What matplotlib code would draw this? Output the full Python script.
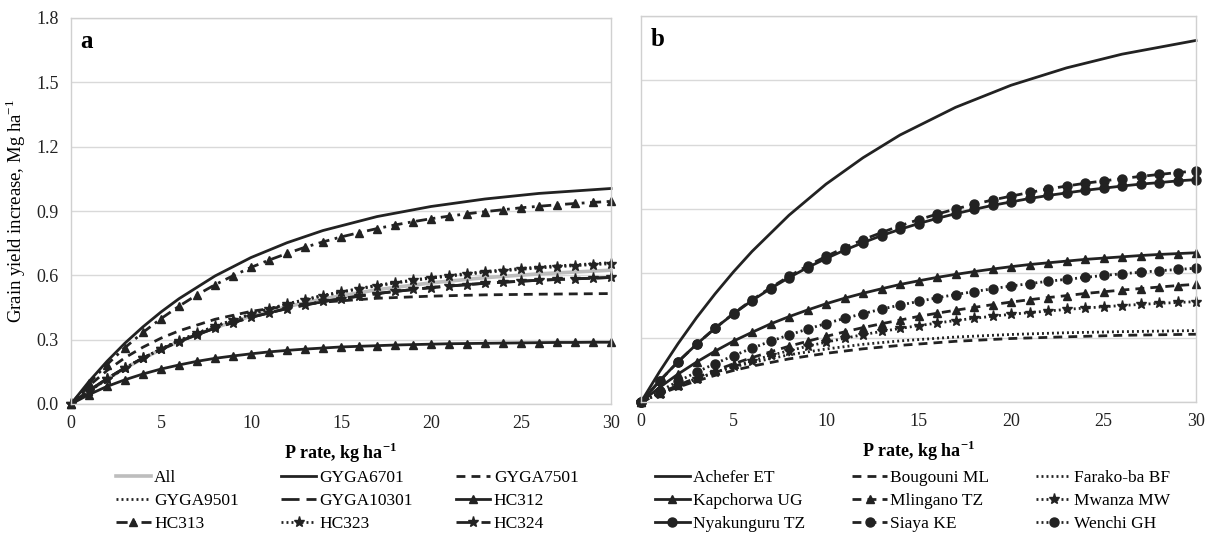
import numpy as np
import matplotlib
matplotlib.use('Agg')
import matplotlib.pyplot as plt

plt.rcParams['font.family'] = ['Liberation Serif', 'DejaVu Serif']
plt.rcParams['axes.unicode_minus'] = False

# P rate, kg/ha : every integer for the marked curves, a coarser set for the plain ones
p_full = list(range(0, 31))
p_coarse = [0, 1, 2, 3, 4, 5, 6, 8, 10, 12, 14, 17, 20, 23, 26, 30]

# ---- panel a (coarse x) ----
all_a = [0, 0.061, 0.116, 0.167, 0.212, 0.254, 0.291, 0.356, 0.410, 0.454, 0.490, 0.533, 0.565, 0.589, 0.607, 0.624]
gyga6701 = [0, 0.105, 0.199, 0.284, 0.360, 0.429, 0.491, 0.597, 0.683, 0.752, 0.809, 0.874, 0.921, 0.956, 0.982, 1.005]
gyga7501 = [0, 0.085, 0.156, 0.216, 0.265, 0.307, 0.341, 0.395, 0.432, 0.457, 0.475, 0.493, 0.503, 0.509, 0.512, 0.515]
gyga9501 = [0, 0.061, 0.117, 0.168, 0.214, 0.257, 0.296, 0.363, 0.420, 0.467, 0.507, 0.554, 0.590, 0.618, 0.639, 0.659]
gyga10301 = [0, 0.062, 0.118, 0.169, 0.214, 0.255, 0.291, 0.354, 0.404, 0.445, 0.477, 0.515, 0.543, 0.563, 0.577, 0.590]
# ---- panel a (full x) ----
hc312 = [0, 0.044, 0.082, 0.113, 0.140, 0.163, 0.182, 0.199, 0.213, 0.224, 0.234, 0.243, 0.250, 0.256,
         0.261, 0.266, 0.269, 0.272, 0.275, 0.277, 0.279, 0.281, 0.282, 0.283, 0.284, 0.285, 0.286,
         0.287, 0.287, 0.288, 0.288]
hc313 = [0, 0.097, 0.184, 0.263, 0.334, 0.398, 0.456, 0.509, 0.556, 0.598, 0.637, 0.671, 0.702, 0.731,
         0.756, 0.779, 0.799, 0.818, 0.835, 0.850, 0.864, 0.876, 0.887, 0.897, 0.906, 0.915, 0.922,
         0.929, 0.935, 0.940, 0.945]
hc323 = [0, 0.061, 0.116, 0.167, 0.214, 0.256, 0.295, 0.330, 0.362, 0.391, 0.418, 0.443, 0.465, 0.486,
         0.504, 0.521, 0.537, 0.551, 0.564, 0.576, 0.587, 0.596, 0.605, 0.614, 0.621, 0.628, 0.634,
         0.640, 0.645, 0.650, 0.654]
hc324 = [0, 0.062, 0.118, 0.169, 0.214, 0.255, 0.291, 0.324, 0.354, 0.380, 0.404, 0.425, 0.445, 0.462,
         0.478, 0.491, 0.504, 0.515, 0.525, 0.534, 0.543, 0.550, 0.557, 0.563, 0.568, 0.573, 0.577,
         0.581, 0.584, 0.587, 0.590]

# ---- panel b (coarse x) ----
achefer = [0, 0.141, 0.272, 0.393, 0.504, 0.607, 0.702, 0.871, 1.016, 1.139, 1.245, 1.374, 1.477, 1.558, 1.622, 1.686]
bougouni = [0, 0.037, 0.069, 0.098, 0.124, 0.147, 0.167, 0.201, 0.227, 0.248, 0.264, 0.283, 0.296, 0.304, 0.311, 0.316]
farako = [0, 0.041, 0.078, 0.110, 0.138, 0.163, 0.184, 0.220, 0.247, 0.269, 0.285, 0.303, 0.315, 0.323, 0.328, 0.333]
# ---- panel b (full x) ----
kapchorwa = [0, 0.068, 0.130, 0.186, 0.237, 0.284, 0.325, 0.364, 0.398, 0.429, 0.458, 0.484, 0.507, 0.528,
             0.548, 0.565, 0.581, 0.595, 0.608, 0.620, 0.631, 0.641, 0.649, 0.657, 0.665, 0.671, 0.677,
             0.683, 0.688, 0.692, 0.696]
mlingano = [0, 0.040, 0.078, 0.113, 0.147, 0.178, 0.207, 0.234, 0.260, 0.283, 0.306, 0.327, 0.347, 0.365,
            0.382, 0.399, 0.414, 0.428, 0.441, 0.454, 0.466, 0.477, 0.487, 0.496, 0.506, 0.514, 0.522,
            0.529, 0.536, 0.543, 0.549]
mwanza = [0, 0.039, 0.074, 0.107, 0.138, 0.166, 0.192, 0.217, 0.239, 0.260, 0.279, 0.297, 0.314, 0.329,
          0.343, 0.356, 0.368, 0.380, 0.390, 0.400, 0.409, 0.417, 0.424, 0.432, 0.438, 0.444, 0.450,
          0.455, 0.460, 0.464, 0.468]
nyakunguru = [0, 0.098, 0.188, 0.269, 0.344, 0.411, 0.473, 0.529, 0.580, 0.627, 0.669, 0.708, 0.743, 0.776,
              0.805, 0.832, 0.856, 0.878, 0.898, 0.917, 0.933, 0.949, 0.963, 0.975, 0.987, 0.997, 1.007,
              1.016, 1.023, 1.031, 1.037]
siaya = [0, 0.098, 0.187, 0.269, 0.344, 0.413, 0.476, 0.533, 0.586, 0.635, 0.679, 0.719, 0.757, 0.790,
         0.822, 0.850, 0.876, 0.900, 0.922, 0.942, 0.960, 0.977, 0.993, 1.007, 1.020, 1.031, 1.042,
         1.052, 1.061, 1.070, 1.077]
wenchi = [0, 0.050, 0.096, 0.139, 0.179, 0.216, 0.251, 0.283, 0.313, 0.340, 0.366, 0.390, 0.412, 0.433,
          0.452, 0.469, 0.486, 0.501, 0.515, 0.528, 0.541, 0.552, 0.563, 0.572, 0.581, 0.590, 0.598,
          0.605, 0.612, 0.618, 0.624]

y_ticks = [0.0, 0.3, 0.6, 0.9, 1.2, 1.5, 1.8]
x_ticks = [0, 5, 10, 15, 20, 25, 30]

K = '#222222'
DASH = (0, (3.2, 2.2))
LONG = (0, (6.5, 2.5))
DOT = (0, (0.7, 1.1))
DASHDOT = (0, (4, 2, 1, 2))

series_a = [
    ('All', p_coarse, all_a, dict(color='#bdbdbd', lw=2.6, ls='-')),
    ('GYGA6701', p_coarse, gyga6701, dict(color=K, lw=2.0, ls='-')),
    ('GYGA7501', p_coarse, gyga7501, dict(color=K, lw=2.0, ls=DASH)),
    ('GYGA9501', p_coarse, gyga9501, dict(color=K, lw=2.0, ls=DOT)),
    ('GYGA10301', p_coarse, gyga10301, dict(color=K, lw=2.0, ls=LONG)),
    ('HC312', p_full, hc312, dict(color=K, lw=2.0, ls='-', marker='^', ms=6)),
    ('HC313', p_full, hc313, dict(color=K, lw=2.0, ls=DASHDOT, marker='^', ms=6)),
    ('HC323', p_full, hc323, dict(color=K, lw=2.0, ls=DOT, marker='*', ms=8)),
    ('HC324', p_full, hc324, dict(color=K, lw=2.0, ls=LONG, marker='*', ms=8)),
]
series_b = [
    ('Achefer ET', p_coarse, achefer, dict(color=K, lw=2.0, ls='-')),
    ('Bougouni ML', p_coarse, bougouni, dict(color=K, lw=2.0, ls=DASH)),
    ('Farako-ba BF', p_coarse, farako, dict(color=K, lw=2.0, ls=DOT)),
    ('Kapchorwa UG', p_full, kapchorwa, dict(color=K, lw=2.0, ls='-', marker='^', ms=6)),
    ('Mlingano TZ', p_full, mlingano, dict(color=K, lw=2.0, ls=DASH, marker='^', ms=6)),
    ('Mwanza MW', p_full, mwanza, dict(color=K, lw=2.0, ls=DOT, marker='*', ms=8)),
    ('Nyakunguru TZ', p_full, nyakunguru, dict(color=K, lw=2.0, ls='-', marker='o', ms=6.5)),
    ('Siaya KE', p_full, siaya, dict(color=K, lw=2.0, ls=DASH, marker='o', ms=6.5)),
    ('Wenchi GH', p_full, wenchi, dict(color=K, lw=2.0, ls=DOT, marker='o', ms=6.5)),
]

W, H = 1205, 534
fig = plt.figure(figsize=(W / 100, H / 100), dpi=100)
ax_a = fig.add_axes([71 / W, 130 / H, 540 / W, 386 / H])
ax_b = fig.add_axes([641 / W, 132 / H, 555 / W, 386 / H])


def style_axes(ax, letter, show_y):
    ax.set_xlim(0, 30)
    ax.set_ylim(0, 1.8)
    ax.set_xticks(x_ticks)
    ax.set_yticks(y_ticks)
    ax.set_yticklabels(['%.1f' % v for v in y_ticks] if show_y else [])
    ax.tick_params(length=0, labelsize=13, colors='#222222')
    ax.tick_params(axis='y', pad=9)
    ax.tick_params(axis='x', pad=8)
    ax.grid(axis='y', color='#d9d9d9', lw=1.0)
    ax.set_axisbelow(True)
    for s in ax.spines.values():
        s.set_color('#d0d0d0')
        s.set_linewidth(1.0)
    ax.set_xlabel('P rate, kg ha$^{\\mathregular{-1}}$', fontsize=13, fontweight='bold', labelpad=6)
    ax.text(0.018, 0.968, letter, transform=ax.transAxes, fontsize=18, fontweight='bold',
            va='top', ha='left')


def draw(ax, series, legend_xy, colspacing):
    handles = []
    for name, xs, ys, kw in series:
        ln, = ax.plot(xs, ys, clip_on=False, label=name, markeredgecolor=K, **kw)
        handles.append(ln)
    # rows in the reference run across, matplotlib fills columns first
    order = [0, 3, 6, 1, 4, 7, 2, 5, 8]
    fig.legend([handles[i] for i in order], [series[i][0] for i in order],
               loc='upper left', bbox_to_anchor=legend_xy, ncol=3, frameon=False,
               fontsize=12.5, handlelength=2.0, handletextpad=0.2, columnspacing=colspacing,
               labelspacing=0.38, borderpad=0, borderaxespad=0)


style_axes(ax_a, 'a', True)
style_axes(ax_b, 'b', False)
ax_a.set_ylabel('Grain yield increase, Mg ha$^{\\mathregular{-1}}$', fontsize=13.5, labelpad=6)

draw(ax_a, series_a, (116 / W, 1 - 470 / H), 2.45)
draw(ax_b, series_b, (655 / W, 1 - 470 / H), 2.7)

fig.savefig('out.png', dpi=100)
